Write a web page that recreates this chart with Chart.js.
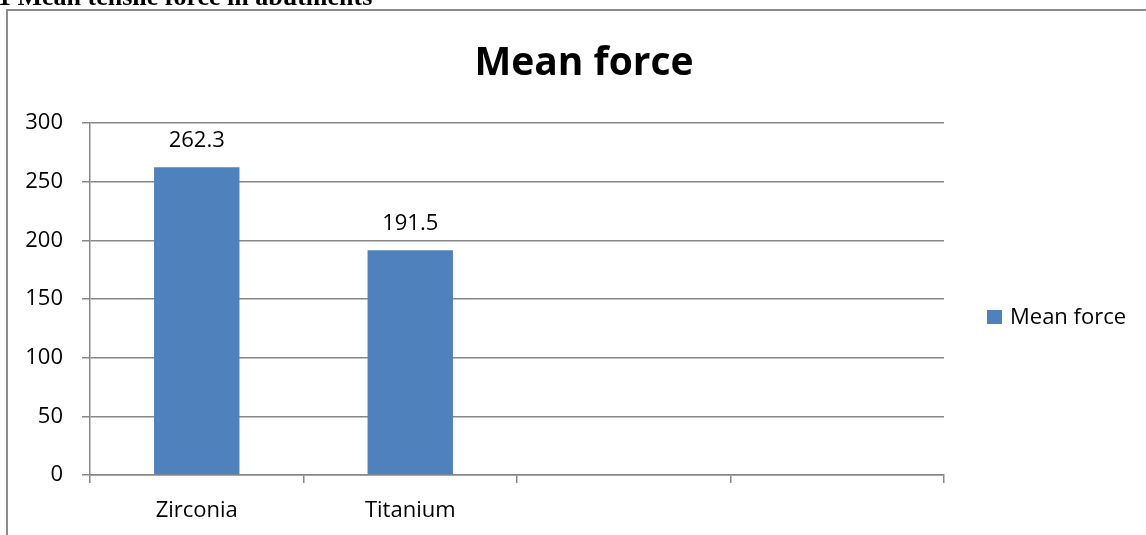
<!DOCTYPE html>
<html>
<head>
<meta charset="utf-8">
<title>Mean force</title>
<script src="https://cdn.jsdelivr.net/npm/chart.js@4/dist/chart.umd.min.js"></script>
<style>
  html, body { margin: 0; padding: 0; background: #fff; }
  #wrap { position: relative; width: 1146px; height: 535px; overflow: hidden; }
  canvas { display: block; }
</style>
</head>
<body>
<div id="wrap"><canvas id="chart" width="1146" height="535"></canvas></div>
<script>
// Chart content
const captionText = '1 Mean tensile force in abutments';
const chartTitle = 'Mean force';
const seriesName = 'Mean force';
const categories = ['Zirconia', 'Titanium', '', ''];
const meanForce = [262.3, 191.5, null, null];
const yTicks = [0, 50, 100, 150, 200, 250, 300];

const FONT = '"Open Sans", "Liberation Sans", sans-serif';
const AXIS_GREY = '#878787';
const BAR_BLUE = '#4f81bd';

// Frame, caption, title, legend and value labels
const decorations = {
  id: 'decorations',
  beforeDraw(chart) {
    const ctx = chart.ctx;
    ctx.save();
    ctx.fillStyle = '#fff';
    ctx.fillRect(0, 0, chart.width, chart.height);
    // caption line of the surrounding document, partly cut by the top edge
    ctx.fillStyle = '#000';
    ctx.font = 'bold 26px "Liberation Serif", "DejaVu Serif", serif';
    ctx.textBaseline = 'alphabetic';
    ctx.textAlign = 'left';
    ctx.fillText(captionText, -2, 5);
    // chart frame
    ctx.strokeStyle = '#8c8c8c';
    ctx.lineWidth = 2;
    ctx.strokeRect(7, 10, 2000, 2000);
    ctx.restore();
  },
  afterDraw(chart) {
    const ctx = chart.ctx;
    ctx.save();
    // title
    ctx.fillStyle = '#000';
    ctx.font = 'bold 39px ' + FONT;
    ctx.textAlign = 'center';
    ctx.textBaseline = 'alphabetic';
    ctx.fillText(chartTitle, 584, 75);

    // value labels above bars
    ctx.font = '22px ' + FONT;
    chart.data.datasets.forEach((ds, i) => {
      const meta = chart.getDatasetMeta(i);
      meta.data.forEach((bar, j) => {
        const v = ds.data[j];
        if (v === null || v === undefined) return;
        ctx.fillText(String(v), bar.x, bar.y - 20);
      });
    });

    // legend
    ctx.textAlign = 'left';
    chart.data.datasets.forEach((ds) => {
      ctx.fillStyle = ds.backgroundColor;
      ctx.fillRect(987, 310, 15, 14);
      ctx.fillStyle = '#000';
      ctx.font = '22px ' + FONT;
      ctx.fillText(ds.label, 1010, 324);
    });
    ctx.restore();
  }
};

new Chart(document.getElementById('chart'), {
  type: 'bar',
  data: {
    labels: categories,
    datasets: [{
      label: seriesName,
      data: meanForce,
      backgroundColor: BAR_BLUE,
      borderWidth: 0,
      categoryPercentage: 1.0,
      barPercentage: 0.4
    }]
  },
  options: {
    responsive: false,
    animation: false,
    events: [],
    layout: { padding: { top: 123, right: 202, left: 0, bottom: 0 } },
    plugins: {
      legend: { display: false },
      title: { display: false },
      tooltip: { enabled: false }
    },
    scales: {
      x: {
        grid: {
          offset: true,
          drawOnChartArea: false,
          drawTicks: true,
          tickLength: 8,
          color: AXIS_GREY,
          lineWidth: 1.5
        },
        border: { color: AXIS_GREY, width: 1.5 },
        ticks: {
          color: '#000',
          font: { family: FONT, size: 22 },
          padding: 15,
          maxRotation: 0,
          autoSkip: false
        },
        afterFit(scale) { scale.height = 60; }
      },
      y: {
        min: 0,
        max: 300,
        afterBuildTicks(scale) { scale.ticks = yTicks.map(v => ({ value: v })); },
        grid: {
          color: AXIS_GREY,
          lineWidth: 1.5,
          drawTicks: true,
          tickLength: 8
        },
        border: { color: AXIS_GREY, width: 1.5 },
        ticks: {
          color: '#000',
          font: { family: FONT, size: 22 },
          padding: 19
        },
        afterFit(scale) { scale.width = 90; }
      }
    }
  },
  plugins: [decorations]
});
</script>
</body>
</html>
